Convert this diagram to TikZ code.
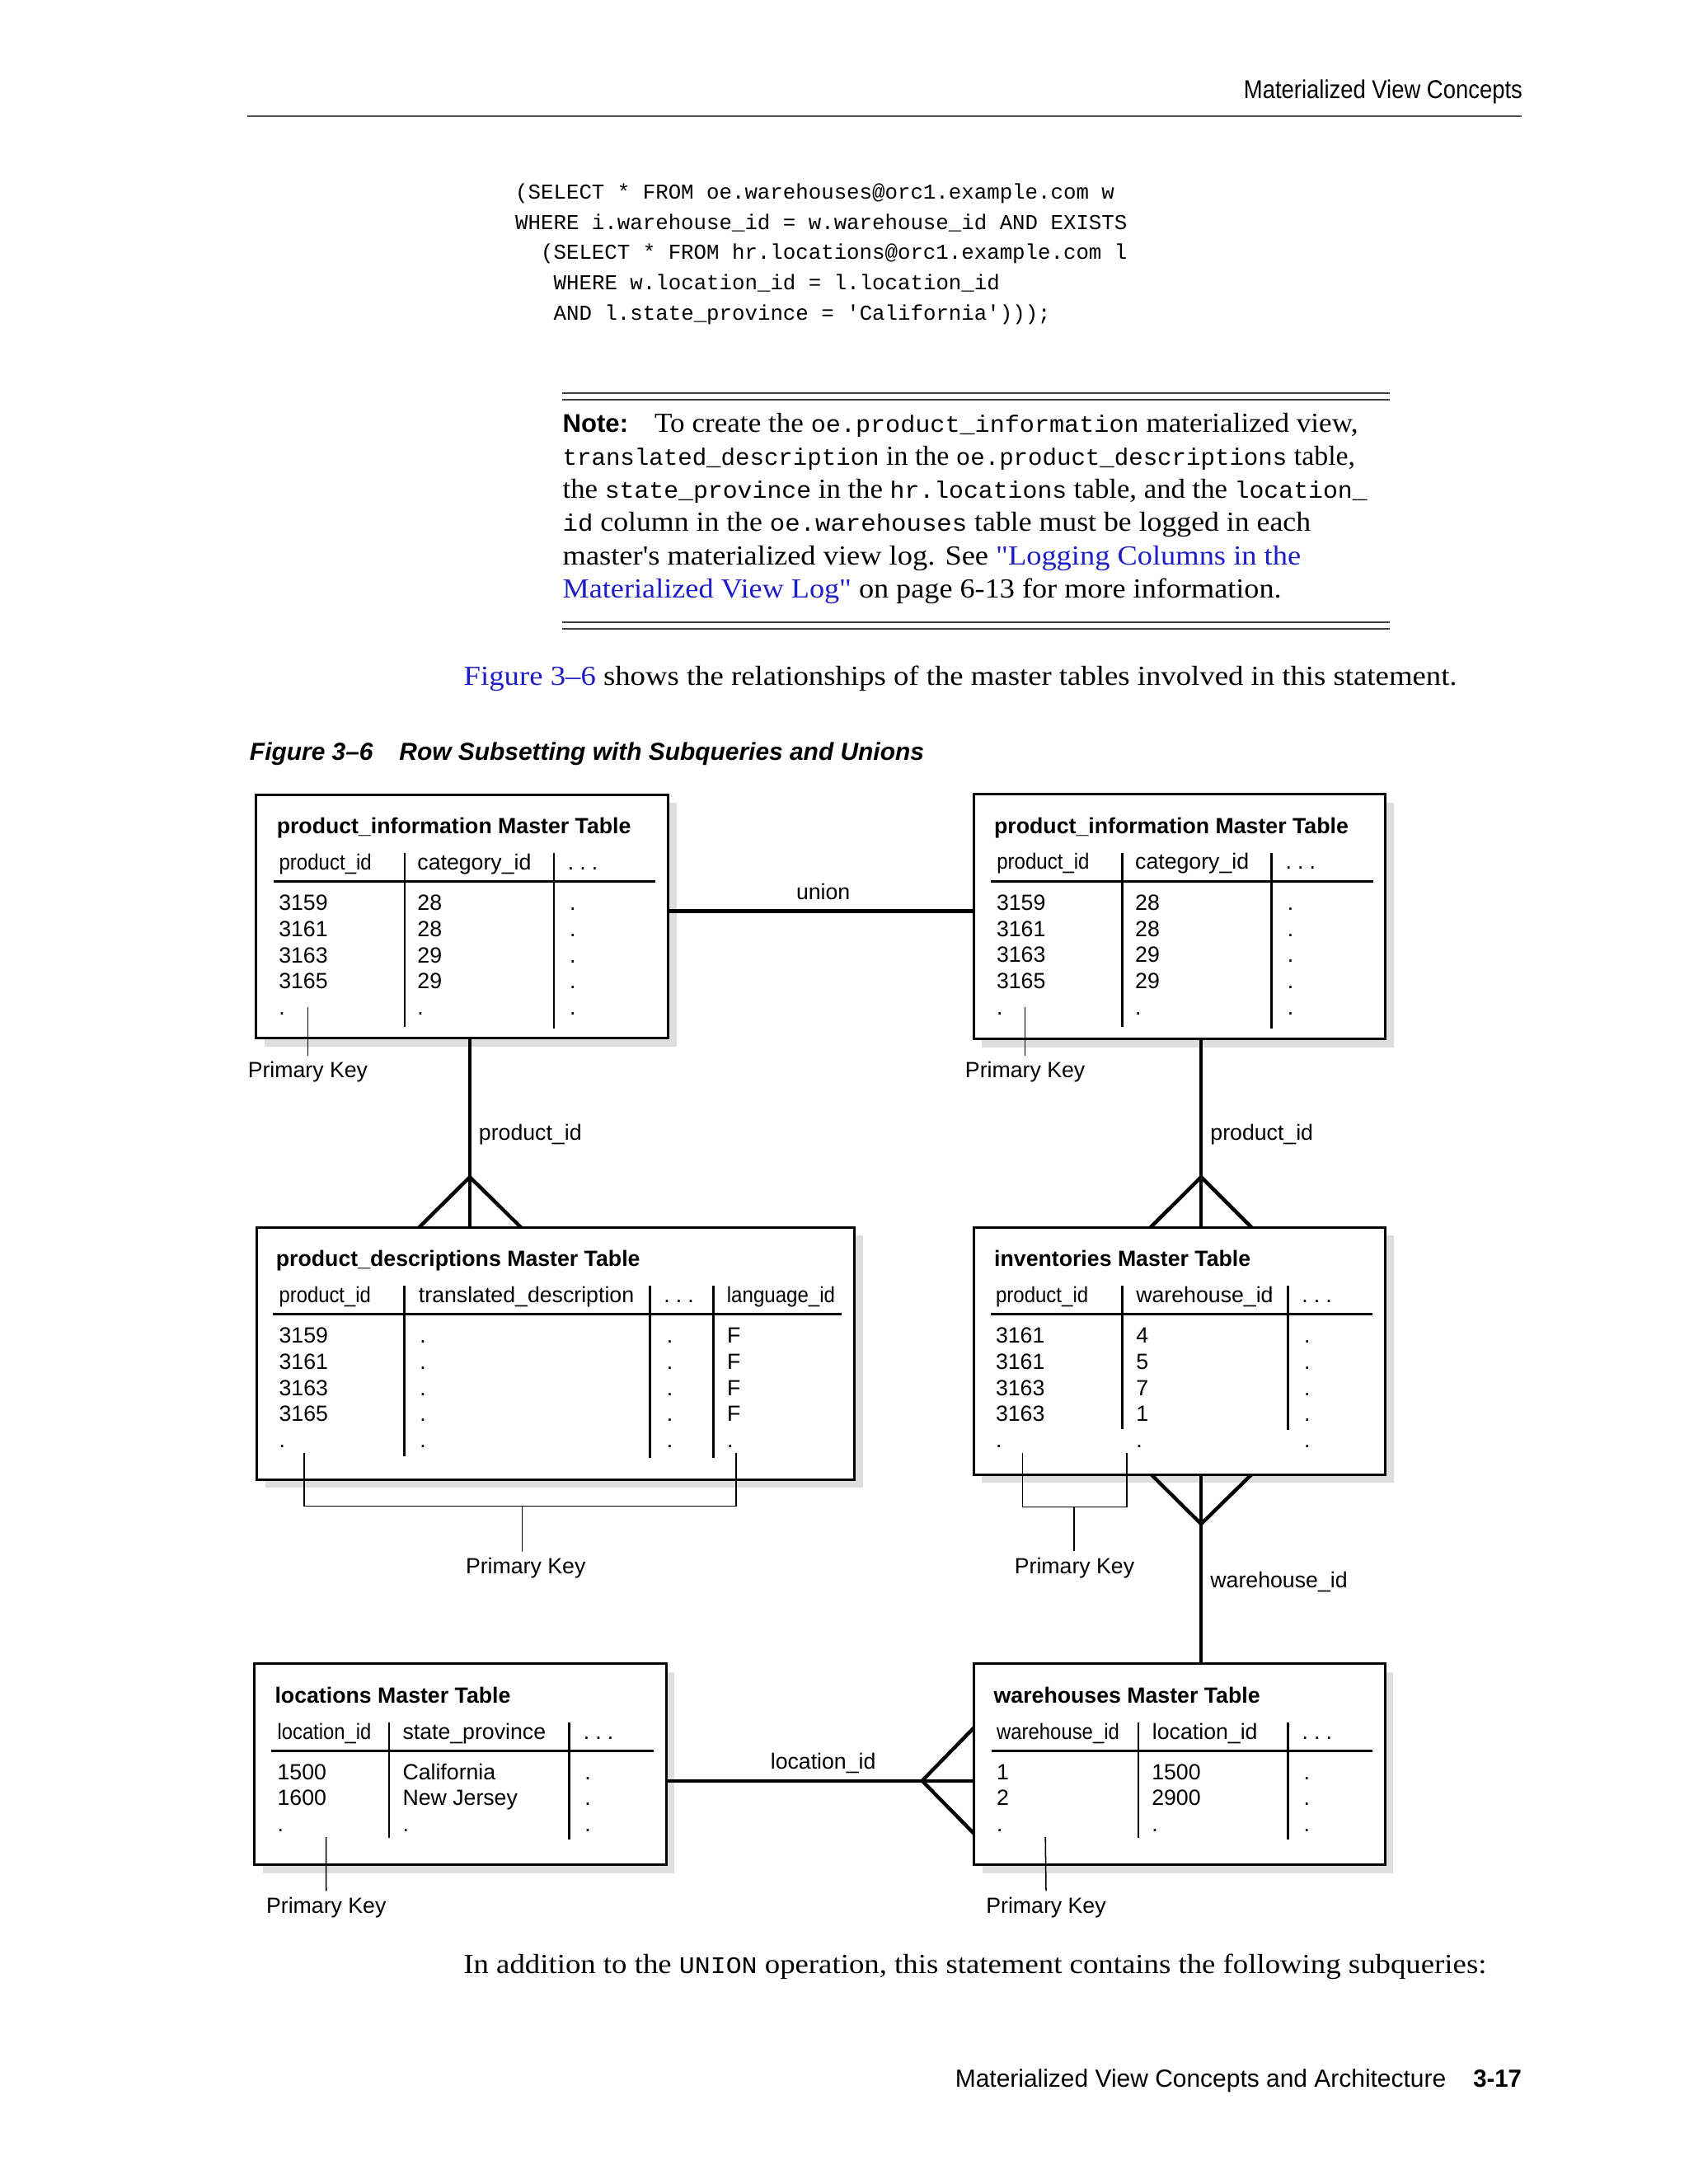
\documentclass[tikz,border=0pt]{standalone}
\usepackage{fontspec}
\usepackage{graphicx}
\usetikzlibrary{calc,shadows}
\setmainfont{Liberation Serif}[Ligatures=TeXOff]
\newfontfamily\dsans{Liberation Sans}
\newfontfamily\dmono{Liberation Mono}
\definecolor{linkblue}{RGB}{30,30,200}
\newcommand{\fitw}[2]{\resizebox{#1pt}{\height}{#2}}
\newcommand{\nm}[1]{{\dmono\fontsize{17}{24}\selectfont #1}}
\newcommand{\ddd}{.\hspace{4.2pt}.\hspace{4.2pt}.}
\begin{document}
\begin{tikzpicture}[x=1pt, y=-1pt,
 txt/.style={inner sep=0pt, outer sep=0pt, anchor=base west},
 dt/.style={txt, font=\dsans\fontsize{15.8}{19}\selectfont},
 dtitle/.style={txt, font=\dsans\bfseries\fontsize{15.8}{19}\selectfont},
 pklabel/.style={inner xsep=0pt, inner ysep=4.6pt, outer sep=0pt, anchor=base, font=\dsans\fontsize{15.8}{19}\selectfont},
 tbox/.style={draw, line width=1.8pt, fill=white, inner sep=0pt, outer sep=0pt, anchor=north west,
   drop shadow={shadow xshift=6pt, shadow yshift=-6pt, fill=black!13, opacity=1}},
 sepline/.style={line width=1.5pt},
 uline/.style={line width=1.6pt},
 pkline/.style={line width=0.9pt},
 conn/.style={line width=2.6pt},
 rulel/.style={line width=1.1pt, black!75},
 serif/.style={txt, font=\fontsize{19.8}{24}\selectfont},
 code/.style={txt, font=\dmono\fontsize{15.25}{21.7}\selectfont},
]
\useasboundingbox (0,0) rectangle (1212,1568.26);
\fill[white] (0,0) rectangle (1212,1568.26);

% ---------- page header ----------
\node[txt, anchor=base east] (hdr) at (1093,71) {\resizebox{200pt}{\height}{\dsans\fontsize{18.5}{20}\selectfont Materialized View Concepts}};
\draw[line width=1.2pt, black!70] (177.6,83.5) -- (1092.5,83.5);

% ---------- code ----------
\node[code] (c1) at (370,143) {(SELECT * FROM oe.warehouses@orc1.example.com w};
\node[code] (c2) at (370,164.7) {WHERE i.warehouse\_id = w.warehouse\_id AND EXISTS};
\node[code] (c3) at (388.3,186.4) {(SELECT * FROM hr.locations@orc1.example.com l};
\node[code] (c4) at (397.5,208.1) {WHERE w.location\_id = l.location\_id};
\node[code] (c5) at (397.5,229.8) {AND l.state\_province = \textquotesingle California\textquotesingle)));};

% ---------- note ----------
\draw[rulel] (403.6,282.3) -- (998,282.3);
\draw[rulel] (403.6,287) -- (998,287);
\node[txt, font=\dsans\bfseries\fontsize{18.4}{24}\selectfont] (nh) at (404,310.6) {Note:};
\node[serif] (n1) at (470,310.6) {\fitw{505}{To create the \nm{oe.product\_information} materialized view,}};
\node[serif] (n2) at (404,334.3) {\fitw{569}{\nm{translated\_description} in the \nm{oe.product\_descriptions} table,}};
\node[serif] (n3) at (404,358) {\fitw{577.6}{the \nm{state\_province} in the \nm{hr.locations} table, and the \nm{location\_}}};
\node[serif] (n4) at (404,381.7) {\fitw{537}{\nm{id} column in the \nm{oe.warehouses} table must be logged in each}};
\node[serif] (n5) at (404,405.4) {\fitw{530}{master's materialized view log. See \textcolor{linkblue}{"Logging Columns in the}}};
\node[serif] (n6) at (404,429.1) {\fitw{516}{\textcolor{linkblue}{Materialized View Log"} on page 6-13 for more information.}};
\draw[rulel] (403.6,446.7) -- (998,446.7);
\draw[rulel] (403.6,451.3) -- (998,451.3);

\node[serif] (fl) at (333,492) {\fitw{713}{\textcolor{linkblue}{Figure 3\textendash 6} shows the relationships of the master tables involved in this statement.}};

% ---------- caption ----------
\node[txt, font=\dsans\bfseries\itshape\fontsize{17.7}{20}\selectfont] (cap) at (179.3,546) {Figure 3\textendash 6\hspace{18.9pt}Row Subsetting with Subqueries and Unions};

% ---------- table boxes ----------
\node[tbox, minimum width=296pt, minimum height=175pt] (t1) at (183.7,570.6) {};
\node[tbox, minimum width=295.6pt, minimum height=175.5pt] (t2) at (699,570.4) {};
\node[tbox, minimum width=429pt, minimum height=181pt] (t3) at (184.4,881.3) {};
\node[tbox, minimum width=295.6pt, minimum height=177.5pt] (t4) at (699,881.3) {};
\node[tbox, minimum width=295.5pt, minimum height=144.2pt] (t5) at (182.7,1194.7) {};
\node[tbox, minimum width=295.1pt, minimum height=144.2pt] (t6) at (699.2,1194.7) {};

% ---------- T1 ----------
\begin{scope}[shift={(183.7,570.6)}]
 \node[dtitle] (t1ti) at (15,28) {product\_information Master Table};
 \node[dt] (t1ha) at (16.7,53.8) {\fitw{66.4}{product\_id}};
 \node[dt] (t1hb) at (116,53.8) {category\_id};
 \node[dt] (t1hc) at (224,53.8) {\ddd};
 \draw[uline] (12.6,62.5) -- (287,62.5);
 \draw[sepline] (107,42) -- (107,167);
 \draw[sepline] (214,42) -- (214,168);
 \foreach \a/\b [count=\i from 0] in {3159/28,3161/28,3163/29,3165/29,./.} {
   \node[dt] (t1a\i) at (16.5,83.2+18.75*\i) {\a};
   \node[dt] (t1b\i) at (116,83.2+18.75*\i) {\b};
   \node[dt] (t1c\i) at (225.3,83.2+18.75*\i) {.};
 }
 \coordinate (t1pkt) at (37.3,152.7);
 \node[pklabel] (t1pk) at (37.3,203.4) {Primary Key};
 \draw[pkline] (t1pkt) -- (t1pk.north);
\end{scope}

% ---------- T2 ----------
\begin{scope}[shift={(699,570.4)}]
 \node[dtitle] (t2ti) at (14.8,28) {product\_information Master Table};
 \node[dt] (t2ha) at (16.7,53.8) {\fitw{66.4}{product\_id}};
 \node[dt] (t2hb) at (116,53.8) {category\_id};
 \node[dt] (t2hc) at (224,53.8) {\ddd};
 \draw[uline] (12.6,62.5) -- (287,62.5);
 \draw[sepline] (106.7,42) -- (106.7,167);
 \draw[sepline] (213.8,42) -- (213.8,168);
 \foreach \a/\b [count=\i from 0] in {3159/28,3161/28,3163/29,3165/29,./.} {
   \node[dt] (t2a\i) at (16.5,83.2+18.75*\i) {\a};
   \node[dt] (t2b\i) at (116,83.2+18.75*\i) {\b};
   \node[dt] (t2c\i) at (225.3,83.2+18.75*\i) {.};
 }
 \coordinate (t2pkt) at (37,152.7);
 \node[pklabel] (t2pk) at (37,203.6) {Primary Key};
 \draw[pkline] (t2pkt) -- (t2pk.north);
\end{scope}

% ---------- T3 ----------
\begin{scope}[shift={(184.4,881.3)}]
 \node[dtitle] (t3ti) at (13.8,28) {product\_descriptions Master Table};
 \node[dt] (t3ha) at (16,53.8) {\fitw{65.8}{product\_id}};
 \node[dt] (t3hb) at (116.2,53.8) {translated\_description};
 \node[dt] (t3hc) at (292.2,53.8) {\ddd};
 \node[dt] (t3hd) at (337.5,53.8) {\fitw{77.6}{language\_id}};
 \draw[uline] (11.5,62.5) -- (419.6,62.5);
 \draw[sepline] (106,42) -- (106,164.5);
 \draw[sepline] (282.3,42) -- (282.3,165.7);
 \draw[sepline] (327.9,42) -- (327.9,165.7);
 \foreach \a/\d [count=\i from 0] in {3159/F,3161/F,3163/F,3165/F,./.} {
   \node[dt] (t3a\i) at (16,83.2+18.75*\i) {\a};
   \node[dt] (t3b\i) at (117.1,83.2+18.75*\i) {.};
   \node[dt] (t3c\i) at (294.3,83.2+18.75*\i) {.};
   \node[dt] (t3d\i) at (337.6,83.2+18.75*\i) {\d};
 }
 \coordinate (t3pkl) at (34.1,162);
 \coordinate (t3pkr) at (344.2,162);
 \coordinate (t3pkm) at (190.5,200.2);
 \node[pklabel] (t3pk) at (193,248.9) {Primary Key};
 \draw[pkline] (t3pkl) |- (t3pkm) -| (t3pkr);
 \draw[pkline] (t3pkm) -- (t3pkm |- t3pk.north);
\end{scope}

% ---------- T4 ----------
\begin{scope}[shift={(699,881.3)}]
 \node[dtitle] (t4ti) at (14.8,28) {inventories Master Table};
 \node[dt] (t4ha) at (15.9,53.8) {\fitw{66.4}{product\_id}};
 \node[dt] (t4hb) at (116.7,53.8) {warehouse\_id};
 \node[dt] (t4hc) at (235.6,53.8) {\ddd};
 \draw[uline] (12.5,62.5) -- (286.5,62.5);
 \draw[sepline] (106.7,42) -- (106.7,144.7);
 \draw[sepline] (225.8,42) -- (225.8,145.7);
 \foreach \a/\b [count=\i from 0] in {3161/4,3161/5,3163/7,3163/1,./.} {
   \node[dt] (t4a\i) at (15.9,83.2+18.75*\i) {\a};
   \node[dt] (t4b\i) at (116.7,83.2+18.75*\i) {\b};
   \node[dt] (t4c\i) at (237.3,83.2+18.75*\i) {.};
 }
 \coordinate (t4pkl) at (35.1,162);
 \coordinate (t4pkr) at (109.9,162);
 \coordinate (t4pkm) at (72,200.9);
 \node[pklabel] (t4pk) at (72.4,248.7) {Primary Key};
 \draw[pkline] (t4pkl) |- (t4pkm) -| (t4pkr);
 \draw[pkline] (t4pkm) -- (t4pkm |- t4pk.north);
\end{scope}

% ---------- T5 ----------
\begin{scope}[shift={(182.7,1194.7)}]
 \node[dtitle] (t5ti) at (14.7,28.2) {locations Master Table};
 \node[dt] (t5ha) at (16.5,54) {\fitw{67.3}{location\_id}};
 \node[dt] (t5hb) at (106.4,54) {state\_province};
 \node[dt] (t5hc) at (236.2,54) {\ddd};
 \draw[uline] (12,62.7) -- (286.4,62.7);
 \draw[sepline] (96.7,42) -- (96.7,124.8);
 \draw[sepline] (225.8,42) -- (225.8,126.3);
 \foreach \a/\b [count=\i from 0] in {1500/California,1600/New Jersey,./.} {
   \node[dt] (t5a\i) at (16.5,83.3+18.6*\i) {\a};
   \node[dt] (t5b\i) at (106.4,83.3+18.6*\i) {\b};
   \node[dt] (t5c\i) at (237.1,83.3+18.6*\i) {.};
 }
 \coordinate (t5pkt) at (51.4,124.4);
 \node[pklabel] (t5pk) at (51.5,179.1) {Primary Key};
 \draw[pkline] (t5pkt) -- (t5pk.north);
\end{scope}

% ---------- T6 ----------
\begin{scope}[shift={(699.2,1194.7)}]
 \node[dtitle] (t6ti) at (14.3,28.2) {warehouses Master Table};
 \node[dt] (t6ha) at (16.4,54) {\fitw{88}{warehouse\_id}};
 \node[dt] (t6hb) at (128.1,54) {location\_id};
 \node[dt] (t6hc) at (235.6,54) {\ddd};
 \draw[uline] (12.5,62.7) -- (286.4,62.7);
 \draw[sepline] (118.1,42) -- (118.1,124.8);
 \draw[sepline] (225.6,42) -- (225.6,126.3);
 \foreach \a/\b [count=\i from 0] in {1/1500,2/2900,./.} {
   \node[dt] (t6a\i) at (16.4,83.3+18.6*\i) {\a};
   \node[dt] (t6b\i) at (127.7,83.3+18.6*\i) {\b};
   \node[dt] (t6c\i) at (236.8,83.3+18.6*\i) {.};
 }
 \coordinate (t6pkt) at (51.3,124.4);
 \node[pklabel] (t6pk) at (51.8,179.1) {Primary Key};
 \draw[pkline] (t6pkt) -- (t6pk.north);
\end{scope}

% ---------- connectors ----------
\coordinate (unionY) at (0,654.3);
\draw[conn] (t1.east |- unionY) -- (t2.west |- unionY);
\node[dt, anchor=base] (lunion) at (591,646) {union};

\coordinate (f1) at (337.3,845.2);
\draw[conn] (t1.south -| f1) -- (t3.north -| f1);
\draw[conn] ($(t3.north -| f1)+(-36.4,0)$) -- (f1) -- ($(t3.north -| f1)+(36.7,0)$);
\node[dt] (lpid1) at (343.8,819) {product\_id};

\coordinate (f2) at (862.3,845.2);
\draw[conn] (t2.south -| f2) -- (t4.north -| f2);
\draw[conn] ($(t4.north -| f2)+(-36.3,0)$) -- (f2) -- ($(t4.north -| f2)+(36.2,0)$);
\node[dt] (lpid2) at (869,819) {product\_id};

\coordinate (f3) at (862.3,1094.3);
\draw[conn] (t4.south -| f3) -- (t6.north -| f3);
\draw[conn] ($(t4.south -| f3)+(-35.8,0)$) -- (f3) -- ($(t4.south -| f3)+(36.2,0)$);
\node[dt] (lwid) at (869,1140) {warehouse\_id};

\coordinate (locY) at (0,1278.7);
\coordinate (f4) at (662,1278.7);
\draw[conn] (t5.east |- locY) -- (t6.west |- locY);
\draw[conn] ($(t6.west |- locY)+(0,-38.1)$) -- (f4) -- ($(t6.west |- locY)+(0,37.9)$);
\node[dt, anchor=base] (llid) at (591,1270) {location\_id};

% ---------- bottom text ----------
\node[serif] (bl) at (332.8,1417) {\fitw{734.4}{In addition to the \nm{UNION} operation, this statement contains the following subqueries:}};
\node[txt, anchor=base east] (ft) at (1038.2,1499) {\resizebox{352.4pt}{\height}{\dsans\fontsize{17.8}{20}\selectfont Materialized View Concepts and Architecture}};
\node[txt, anchor=base east] (ftn) at (1092.5,1499) {\resizebox{34.8pt}{\height}{\dsans\bfseries\fontsize{17.8}{20}\selectfont 3-17}};
\end{tikzpicture}
\end{document}
